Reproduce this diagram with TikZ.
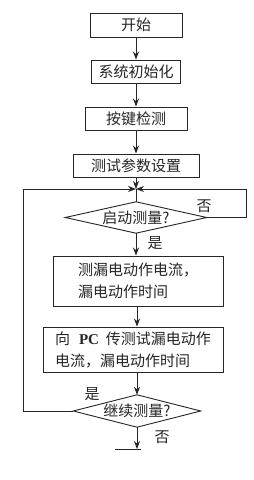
\documentclass[tikz,border=0pt]{standalone}
\usepackage{fontspec}
\setmainfont{Noto Sans CJK SC}
\newfontfamily\latfont{Liberation Serif}
\usetikzlibrary{arrows.meta}
\begin{document}
\begin{tikzpicture}[x=1pt,y=-1pt,
  box/.style={draw=black!85,line width=0.9pt,inner sep=0pt,font=\fontsize{15}{22}\selectfont,text=black!85},
  dia/.style={inner sep=0pt,font=\fontsize{15}{22}\selectfont,text=black!85},
  lbl/.style={inner sep=0pt,font=\fontsize{15}{18}\selectfont,text=black!85},
  ln/.style={draw=black!85,line width=0.9pt},
  arr/.style={ln,-{Stealth[length=8pt,width=6pt]}}]
\useasboundingbox[fill=white] (0,0) rectangle (254,480);
% boxes
\node[box,minimum width=92pt,minimum height=24pt] (b1) at (136,25) {开始};
\node[box,minimum width=89pt,minimum height=23pt] (b2) at (136,71.5) {系统初始化};
\node[box,minimum width=102pt,minimum height=23pt] (b3) at (136,118.5) {按键检测};
\node[box,minimum width=126pt,minimum height=23pt] (b4) at (136,165.5) {测试参数设置};
\coordinate (J) at (136,189);
\node[dia,minimum width=141pt,minimum height=31pt] (d1) at (136,217.5) {启动测量?};
\draw[ln] (d1.north) -- (d1.east) -- (d1.south) -- (d1.west) -- cycle;
\node[box,minimum width=170pt,minimum height=50pt,align=left] (b5) at (138,281) {测漏电动作电流，\\漏电动作时间};
\node[box,minimum width=180pt,minimum height=45pt,align=left] (b6) at (133,349.5) {向\hspace{9pt}{\latfont\bfseries PC}\hspace{7pt}传测试漏电动作\\电流，漏电动作时间};
\node[dia,minimum width=127pt,minimum height=32pt] (d2) at (137,411) {继续测量?};
\draw[ln] (d2.north) -- (d2.east) -- (d2.south) -- (d2.west) -- cycle;
% loop coordinates
\coordinate (R) at (246,217.5);
\coordinate (L) at (23,411);
\coordinate (E) at (137,449);
\coordinate (EL) at (115,449);
\coordinate (ER) at (141,449);
% arrows
\draw[arr] (b1) -- (b2);
\draw[arr] (b2) -- (b3);
\draw[arr] (b3) -- (b4);
\draw[arr] (b4) -- (J);
\draw[ln] (J) -- (d1.north);
\draw[arr] (d1.east) -- (R) |- (J);
\draw[arr] (d2.west) -- (L) |- (J);
\draw[arr] (d1.south) -- (d1.south |- b5.north);
\draw[arr] (b5.south -| d2.north) -- (b6.north -| d2.north);
\draw[arr] (b6.south -| d2.north) -- (d2.north);
\draw[arr] (d2.south) -- (E);
\draw[ln] (EL) -- (ER);
% labels
\node[lbl] (n1) at (204,206) {否};
\node[lbl] (y1) at (155,243) {是};
\node[lbl] (y2) at (92,394) {是};
\node[lbl] (n2) at (162,437) {否};
\end{tikzpicture}
\end{document}
